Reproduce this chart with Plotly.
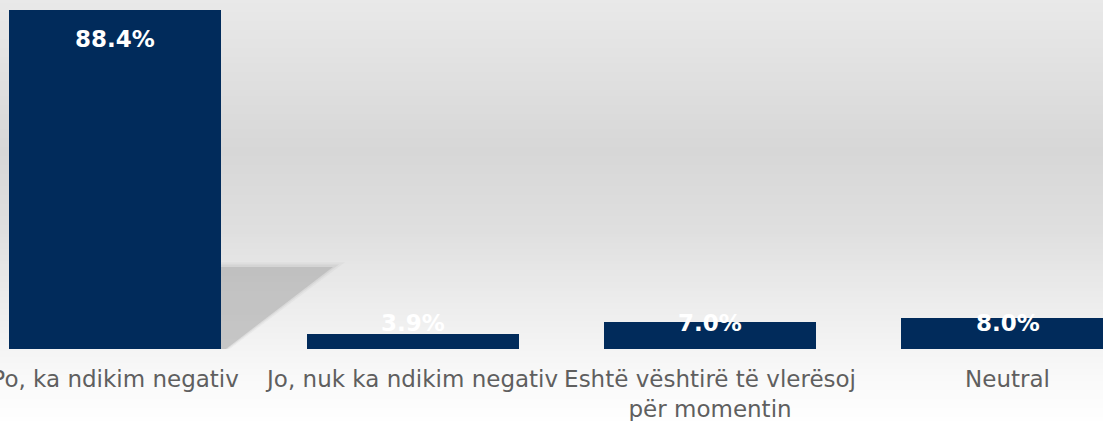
import plotly.graph_objects as go

categories = ["Po, ka ndikim negativ", "Jo, nuk ka ndikim negativ",
              "Eshtë vështirë të vlerësoj<br>për momentin", "Neutral"]
values = [88.4, 3.9, 7.0, 8.0]
value_labels = ["88.4%", "3.9%", "7.0%", "8.0%"]

W, H = 1103, 421
ML, MR, MT, MB = 0, 0, 0, 72
PH = H - MT - MB
YMAX = 91.0

fig = go.Figure()
fig.add_trace(go.Bar(
    x=list(range(len(categories))), y=values,
    marker=dict(color="#012b5b", line=dict(width=0)),
    width=0.713, hoverinfo="skip", showlegend=False,
))

# background vertical gradient (decoration)
stops = [(0, (233, 233, 233)), (60, (226, 226, 226)), (150, (215, 215, 215)),
         (230, (223, 223, 223)), (300, (236, 236, 236)), (349, (244, 244, 244)),
         (385, (250, 250, 250)), (421, (254, 254, 254))]

def col_at(py):
    for (a, ca), (b, cb) in zip(stops[:-1], stops[1:]):
        if a <= py <= b:
            t = (py - a) / (b - a)
            c = [round(ca[i] + (cb[i] - ca[i]) * t) for i in range(3)]
            return "rgb(%d,%d,%d)" % tuple(c)
    return "rgb(254,254,254)"

def py2paper(py):
    return (PH - (py - MT)) / PH

shapes = []
step = 3
for py in range(0, H, step):
    shapes.append(dict(type="rect", xref="paper", yref="paper",
                       x0=0, x1=1, y0=py2paper(py + step + 0.5), y1=py2paper(py),
                       fillcolor=col_at(py + step / 2), line=dict(width=0), layer="below"))

# shadow behind first bar (decoration)
def px2x(px):
    return (px - ML) / (W - ML - MR)

for grow, op in [(12, 0.10), (6, 0.18), (0, 0.42)]:
    pts = [(221, 267 - grow * 0.4), (333 + grow, 267 - grow * 0.4), (226 + grow * 0.3, 349), (221, 349)]
    path = "M " + " L ".join("%f,%f" % (px2x(x), py2paper(y)) for x, y in pts) + " Z"
    shapes.append(dict(type="path", xref="paper", yref="paper", path=path,
                       fillcolor="rgb(165,165,165)", opacity=op, line=dict(width=0), layer="below"))

fig.update_layout(shapes=shapes)

# data labels
annotations = []
for i, (v, lab) in enumerate(zip(values, value_labels)):
    font = dict(family="DejaVu Sans", size=23, color="white")
    if v / YMAX * PH > 60:
        annotations.append(dict(x=i, y=v, text="<b>" + lab + "</b>", showarrow=False,
                                yanchor="top", yshift=-14, font=font))
    else:
        annotations.append(dict(x=i, y=0, text="<b>" + lab + "</b>", showarrow=False,
                                yanchor="bottom", yshift=11, font=font))
fig.update_layout(annotations=annotations)

fig.update_layout(
    width=W, height=H,
    margin=dict(l=ML, r=MR, t=MT, b=MB, pad=0, autoexpand=False),
    paper_bgcolor="white", plot_bgcolor="rgba(0,0,0,0)",
    xaxis=dict(range=[-0.387, 3.321], tickmode="array", tickvals=list(range(len(categories))),
               ticktext=categories, showgrid=False, zeroline=False, showline=False, ticks="",
               automargin=False,
               ticklabeloverflow="allow", ticklabelstandoff=14,
               tickfont=dict(family="DejaVu Sans", size=23, color="#5f5f5f")),
    yaxis=dict(range=[0, YMAX], visible=False, showgrid=False, zeroline=False, automargin=False),
    bargap=0,
)

fig.write_html("out.html", config={"displayModeBar": False, "staticPlot": True},
               post_script="document.body.style.margin='0';document.body.style.overflow='hidden';")
